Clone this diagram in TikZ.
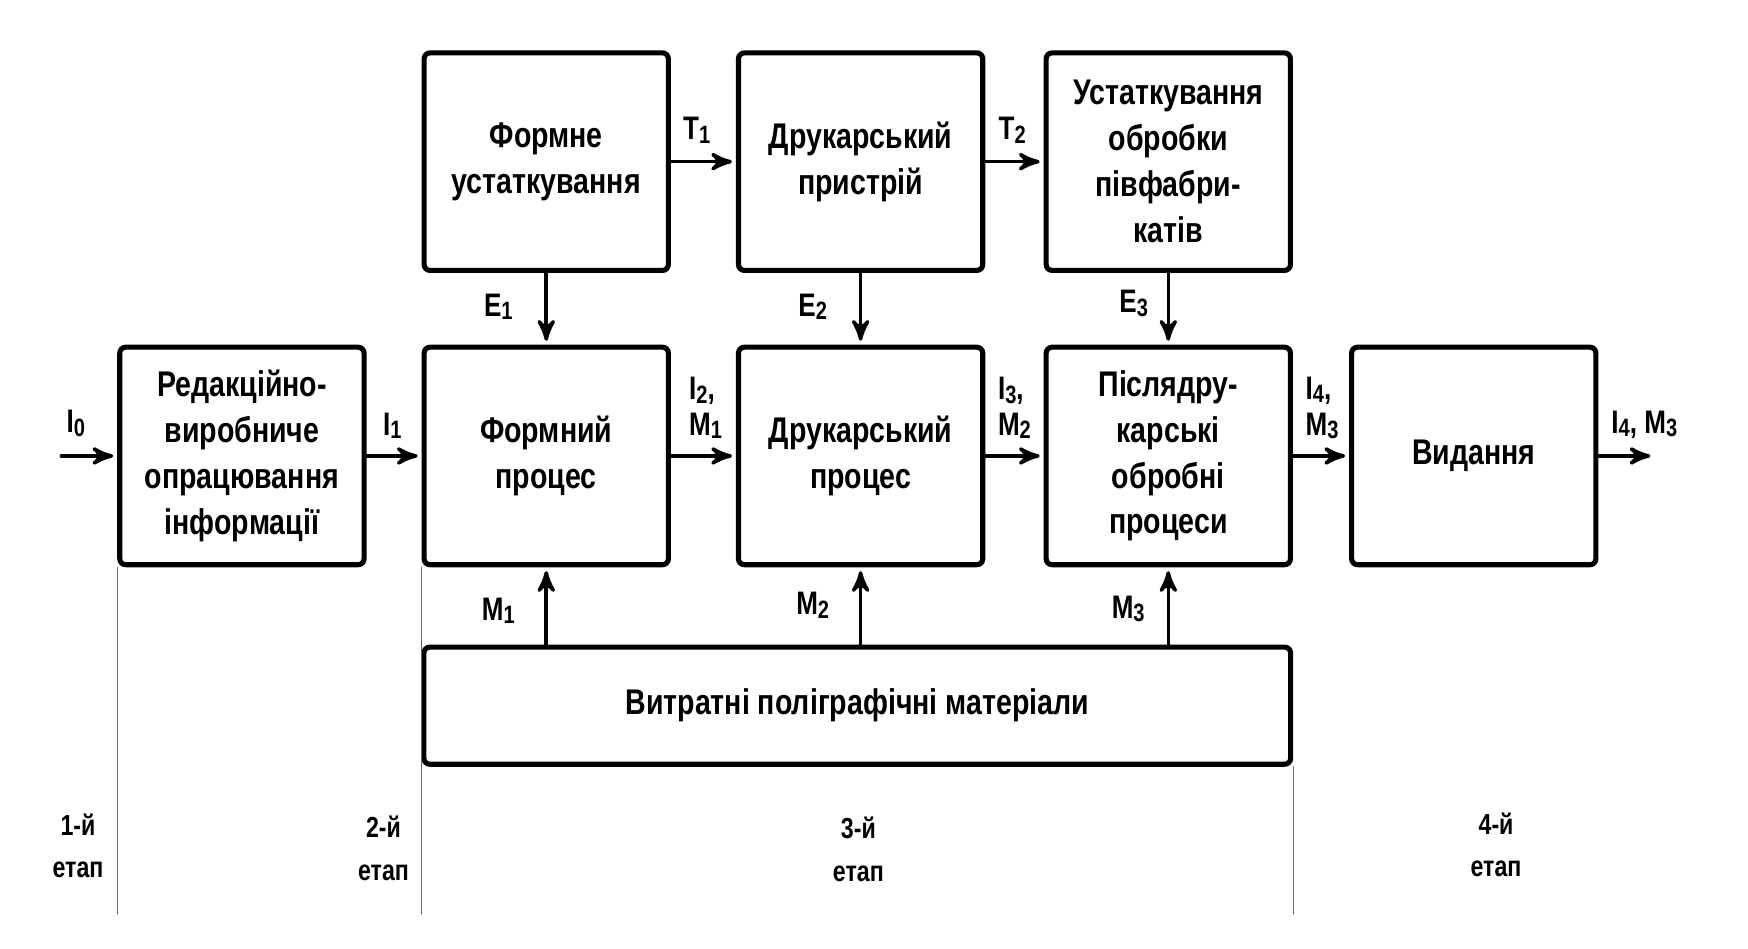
\documentclass[tikz,border=0pt]{standalone}
\usepackage{fontspec}
\setmainfont{Liberation Sans}[FakeStretch=0.8]
\usetikzlibrary{arrows}
\newcommand{\lo}[1]{\raisebox{-0.2ex}{\fontsize{6.4}{7}\selectfont #1}}

\begin{document}
\begin{tikzpicture}[line cap=round,line join=round,>=stealth',x=0.01cm,y=-0.01cm,
  blk/.style={draw,line width=1.3pt,rounded corners=1.5pt,minimum width=2.19cm,minimum height=1.95cm,align=center,inner sep=0pt},
  txt/.style={font=\fontsize{9.1}{11.7}\selectfont\bfseries},
  lab/.style={font=\fontsize{8.3}{9.1}\selectfont\bfseries,inner sep=0pt},
  stage/.style={font=\fontsize{7.4}{10.8}\selectfont\bfseries,inner sep=0pt,align=center},
  flow/.style={->,line width=0.9pt,shorten >=1pt},
  divider/.style={line width=0.3pt,black!60}]
\useasboundingbox (0,0) rectangle (1568,851);
% top row
\node[blk,txt] (ustat) at (490,145) {Формне\\устаткування};
\node[blk,txt] (drpr) at (772,145) {Друкарський\\пристрій};
\node[blk,txt] (obr) at (1048,145) {Устаткування\\обробки\\півфабри-\\катів};
% main row
\node[blk,txt] (red) at (217,409) {Редакційно-\\виробниче\\опрацювання\\інформації};
\node[blk,txt] (formp) at (490,409) {Формний\\процес};
\node[blk,txt] (drukp) at (772,409) {Друкарський\\процес};
\node[blk,txt] (pisl) at (1048,409) {Післядру-\\карські\\обробні\\процеси};
\node[blk,txt] (vyd) at (1322,409) {Видання};
% materials
\node[blk,txt,minimum width=7.77cm,minimum height=1.05cm] (mat) at (769,633) {Витратні поліграфічні матеріали};
\coordinate (in) at (55,409);
\coordinate (out) at (1484,409);
\coordinate (bot) at (0,820);
% connectors
\draw[flow] (in) -- (red);
\draw[flow] (red) -- (formp);
\draw[flow] (formp) -- (drukp);
\draw[flow] (drukp) -- (pisl);
\draw[flow] (pisl) -- (vyd);
\draw[flow] (vyd) -- (out);
\draw[flow] (ustat) -- (drpr);
\draw[flow] (drpr) -- (obr);
\draw[flow] (ustat) -- (formp);
\draw[flow] (drpr) -- (drukp);
\draw[flow] (obr) -- (pisl);
\draw[flow] (formp.south |- mat.north) -- (formp);
\draw[flow] (drukp.south |- mat.north) -- (drukp);
\draw[flow] (pisl.south |- mat.north) -- (pisl);
% stages
\draw[divider] (red.south west) -- (red.south west |- bot);
\draw[divider] (formp.south west) -- (formp.south west |- bot);
\draw[divider] (mat.south east) -- (mat.south east |- bot);
% labels
\node[lab] at (68,380) {I\lo{0}};
\node[lab] at (352,382) {I\lo{1}};
\node[lab,align=left] at (633,366) {I\lo{2},\\M\lo{1}};
\node[lab,align=left] at (910,366) {I\lo{3},\\M\lo{2}};
\node[lab,align=left] at (1186,366) {I\lo{4},\\M\lo{3}};
\node[lab] at (1475,381) {I\lo{4}, M\lo{3}};
\node[lab] at (625,117) {T\lo{1}};
\node[lab] at (908,117) {T\lo{2}};
\node[lab] at (447,275) {E\lo{1}};
\node[lab] at (729,275) {E\lo{2}};
\node[lab] at (1017,272) {E\lo{3}};
\node[lab] at (447,548) {M\lo{1}};
\node[lab] at (729,543) {M\lo{2}};
\node[lab] at (1012,546) {M\lo{3}};
\node[stage] at (70,759) {1-й\\етап};
\node[stage] at (344,761) {2-й\\етап};
\node[stage] at (770,762) {3-й\\етап};
\node[stage] at (1342,758) {4-й\\етап};
\end{tikzpicture}
\end{document}
